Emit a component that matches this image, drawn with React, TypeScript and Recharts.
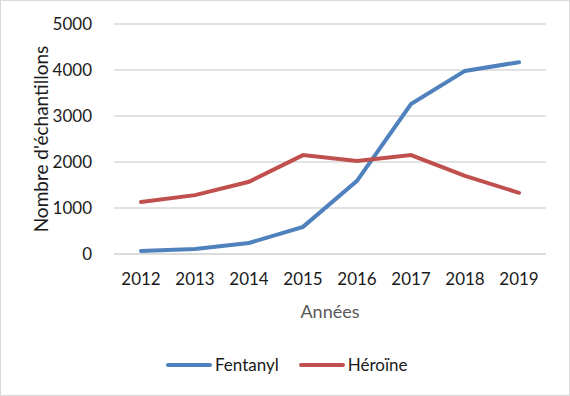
import { CartesianGrid, Line, LineChart, XAxis, YAxis } from 'recharts';

const years = ['2012', '2013', '2014', '2015', '2016', '2017', '2018', '2019'];
const fentanyl = [65, 110, 240, 590, 1590, 3260, 3980, 4170];
const heroine = [1130, 1280, 1570, 2150, 2020, 2150, 1700, 1330];
const yTicks = [0, 1000, 2000, 3000, 4000, 5000];

const data = years.map((year, i) => ({ year, fentanyl: fentanyl[i], heroine: heroine[i] }));

const FONT = 'Lato, "Noto Sans", sans-serif';
const BLUE = '#4f81bd';
const RED = '#c0504d';
const GRID = '#d9d9d9';

function LegendItem({ color, label }: { color: string; label: string }) {
  return (
    <span style={{ display: 'inline-flex', alignItems: 'center', marginRight: 20 }}>
      <svg width={46} height={8} style={{ marginRight: 3 }}>
        <line x1={2} y1={4} x2={44} y2={4} stroke={color} strokeWidth={4} strokeLinecap="round" />
      </svg>
      <span>{label}</span>
    </span>
  );
}

export default function App() {
  return (
    <div
      style={{
        position: 'absolute',
        left: 0,
        top: 0,
        width: 570,
        height: 396,
        border: `1px solid ${GRID}`,
        boxSizing: 'border-box',
        background: '#fff',
        fontFamily: FONT,
      }}
    >
      <LineChart width={568} height={394} data={data} margin={{ top: 23, right: 23, bottom: 75, left: 0 }}>
        <CartesianGrid vertical={false} stroke={GRID} strokeWidth={1.3} />
        <XAxis
          dataKey="year"
          padding={{ left: 27, right: 27 }}
          axisLine={{ stroke: GRID, strokeWidth: 1.3 }}
          tickLine={false}
          tickMargin={13}
          height={66}
          tick={{ fill: '#1a1a1a', fontSize: 17, fontFamily: FONT }}
          label={{ value: 'Années', position: 'insideBottom', offset: 2, fill: '#595959', fontSize: 18, fontFamily: FONT }}
        />
        <YAxis
          domain={[0, 5000]}
          ticks={yTicks}
          width={113}
          axisLine={false}
          tickLine={false}
          tickMargin={16}
          tick={{ fill: '#1a1a1a', fontSize: 17, fontFamily: FONT }}
          label={({ viewBox }: any) => (
            <text
              x={39}
              y={viewBox.y + viewBox.height / 2}
              transform={`rotate(-90, 39, ${viewBox.y + viewBox.height / 2})`}
              textAnchor="middle"
              dominantBaseline="central"
              fill="#1a1a1a"
              fontSize={19}
              fontFamily={FONT}
            >
              Nombre d'échantillons
            </text>
          )}
        />
        <Line
          type="linear"
          dataKey="fentanyl"
          stroke={BLUE}
          strokeWidth={4}
          strokeLinecap="round"
          dot={false}
          isAnimationActive={false}
        />
        <Line
          type="linear"
          dataKey="heroine"
          stroke={RED}
          strokeWidth={4}
          strokeLinecap="round"
          dot={false}
          isAnimationActive={false}
        />
      </LineChart>
      <div
        style={{
          position: 'absolute',
          left: 165,
          top: 354,
          fontSize: 17,
          color: '#1a1a1a',
          display: 'flex',
          lineHeight: '20px',
        }}
      >
        <LegendItem color={BLUE} label="Fentanyl" />
        <LegendItem color={RED} label="Héroïne" />
      </div>
    </div>
  );
}
